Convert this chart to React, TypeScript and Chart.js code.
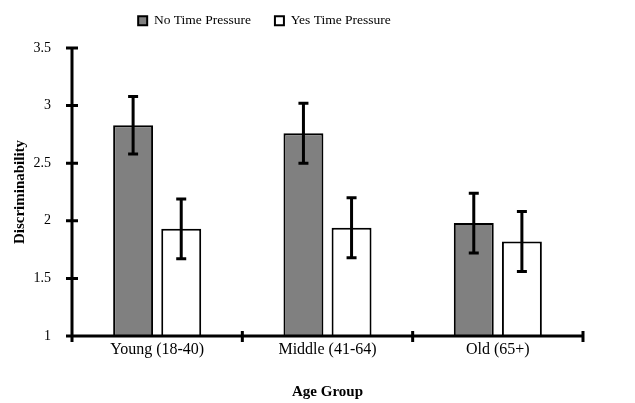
import React, { useEffect, useRef } from "react";
import { Chart, registerables } from "chart.js";

Chart.register(...registerables);

const categories = ["Young (18-40)", "Middle (41-64)", "Old (65+)"];
const seriesNames = ["No Time Pressure", "Yes Time Pressure"];
const noPressure = [2.83, 2.76, 1.98];
const yesPressure = [1.93, 1.94, 1.82];
const noPressureErr = [0.25, 0.26, 0.26];
const yesPressureErr = [0.26, 0.26, 0.26];
const yTicks = [1, 1.5, 2, 2.5, 3, 3.5];

const FONT = "'Liberation Serif', 'Times New Roman', serif";

export default function App() {
  const ref = useRef<HTMLCanvasElement | null>(null);

  useEffect(() => {
    if (!ref.current) return;
    const errors = [noPressureErr, yesPressureErr];

    const legendFit = {
      id: "legendFit",
      beforeInit(chart: any) {
        const lg = chart.legend;
        if (!lg) return;
        const orig = lg.fit;
        lg.fit = function () {
          orig.call(this);
          this.height = 58;
        };
      },
      afterLayout(chart: any) {
        const lg = chart.legend;
        if (lg) lg.left = lg.left - 54;
      },
    };

    const axesPlugin = {
      id: "axesTicks",
      afterDatasetsDraw(chart: any) {
        const ctx = chart.ctx;
        const x = chart.scales.x;
        const y = chart.scales.y;
        ctx.save();
        ctx.strokeStyle = "#000";
        ctx.lineWidth = 3;
        chart.data.datasets.forEach((ds: any, di: number) => {
          const meta = chart.getDatasetMeta(di);
          meta.data.forEach((bar: any, i: number) => {
            const v = ds.data[i];
            const e = errors[di][i];
            const top = y.getPixelForValue(v + e);
            const bot = y.getPixelForValue(v - e);
            ctx.beginPath();
            ctx.moveTo(bar.x, top);
            ctx.lineTo(bar.x, bot);
            ctx.moveTo(bar.x - 5, top);
            ctx.lineTo(bar.x + 5, top);
            ctx.moveTo(bar.x - 5, bot);
            ctx.lineTo(bar.x + 5, bot);
            ctx.stroke();
          });
        });
        const left = chart.chartArea.left;
        const bottom = chart.chartArea.bottom;
        ctx.beginPath();
        ctx.moveTo(left, chart.chartArea.top);
        ctx.lineTo(left, bottom);
        ctx.moveTo(left, bottom);
        ctx.lineTo(chart.chartArea.right + 1.5, bottom);
        yTicks.forEach((t) => {
          const py = y.getPixelForValue(t);
          ctx.moveTo(left - 6, py);
          ctx.lineTo(left + 6, py);
        });
        for (let i = 0; i <= categories.length; i++) {
          const px = x.getPixelForValue(i - 0.5);
          ctx.moveTo(px, bottom - 5);
          ctx.lineTo(px, bottom + 6);
        }
        ctx.stroke();
        ctx.restore();
      },
    };

    const chart = new Chart(ref.current, {
      type: "bar",
      data: {
        labels: categories,
        datasets: [
          {
            label: seriesNames[0],
            data: noPressure,
            backgroundColor: "#808080",
            borderColor: "#000",
            borderWidth: 2,
            base: 1,
          } as any,
          {
            label: seriesNames[1],
            data: yesPressure,
            backgroundColor: "#ffffff",
            borderColor: "#000",
            borderWidth: 2,
            base: 1,
          } as any,
        ],
      },
      options: {
        responsive: false,
        animation: false,
        events: [],
        layout: { padding: { top: -10, right: 52, left: 0, bottom: 0 } },
        datasets: {
          bar: { categoryPercentage: 0.565, barPercentage: 0.83 },
        },
        plugins: {
          legend: {
            position: "top",
            labels: {
              boxWidth: 9,
              boxHeight: 9,
              padding: 24,
              color: "#000",
              font: { family: FONT, size: 13.5 },
            },
          },
          tooltip: { enabled: false },
        },
        scales: {
          x: {
            grid: { display: false, drawTicks: false },
            border: { display: false },
            ticks: { color: "#000", font: { family: FONT, size: 16 }, padding: 4 },
            title: {
              display: true,
              text: "Age Group",
              color: "#000",
              font: { family: FONT, size: 15, weight: "bold" },
              padding: { top: 0, bottom: 2 },
            },
            afterFit(scale: any) {
              scale.height = 67;
            },
          },
          y: {
            min: 1,
            max: 3.5,
            grid: { display: false, drawTicks: false },
            border: { display: false },
            ticks: {
              stepSize: 0.5,
              color: "#000",
              font: { family: FONT, size: 14 },
              padding: 21,
              callback: (v: any) => String(Number(v)),
            },
            title: {
              display: true,
              text: "Discriminability",
              color: "#000",
              font: { family: FONT, size: 15, weight: "bold" },
              padding: { top: 11, bottom: 0 },
            },
            afterFit(scale: any) {
              scale.width = 72;
            },
          },
        },
      },
      plugins: [legendFit, axesPlugin],
    });
    return () => chart.destroy();
  }, []);

  return (
    <div style={{ position: "absolute", left: 0, top: 0, width: 635, height: 403, background: "#fff" }}>
      <canvas ref={ref} width={635} height={403} />
    </div>
  );
}
